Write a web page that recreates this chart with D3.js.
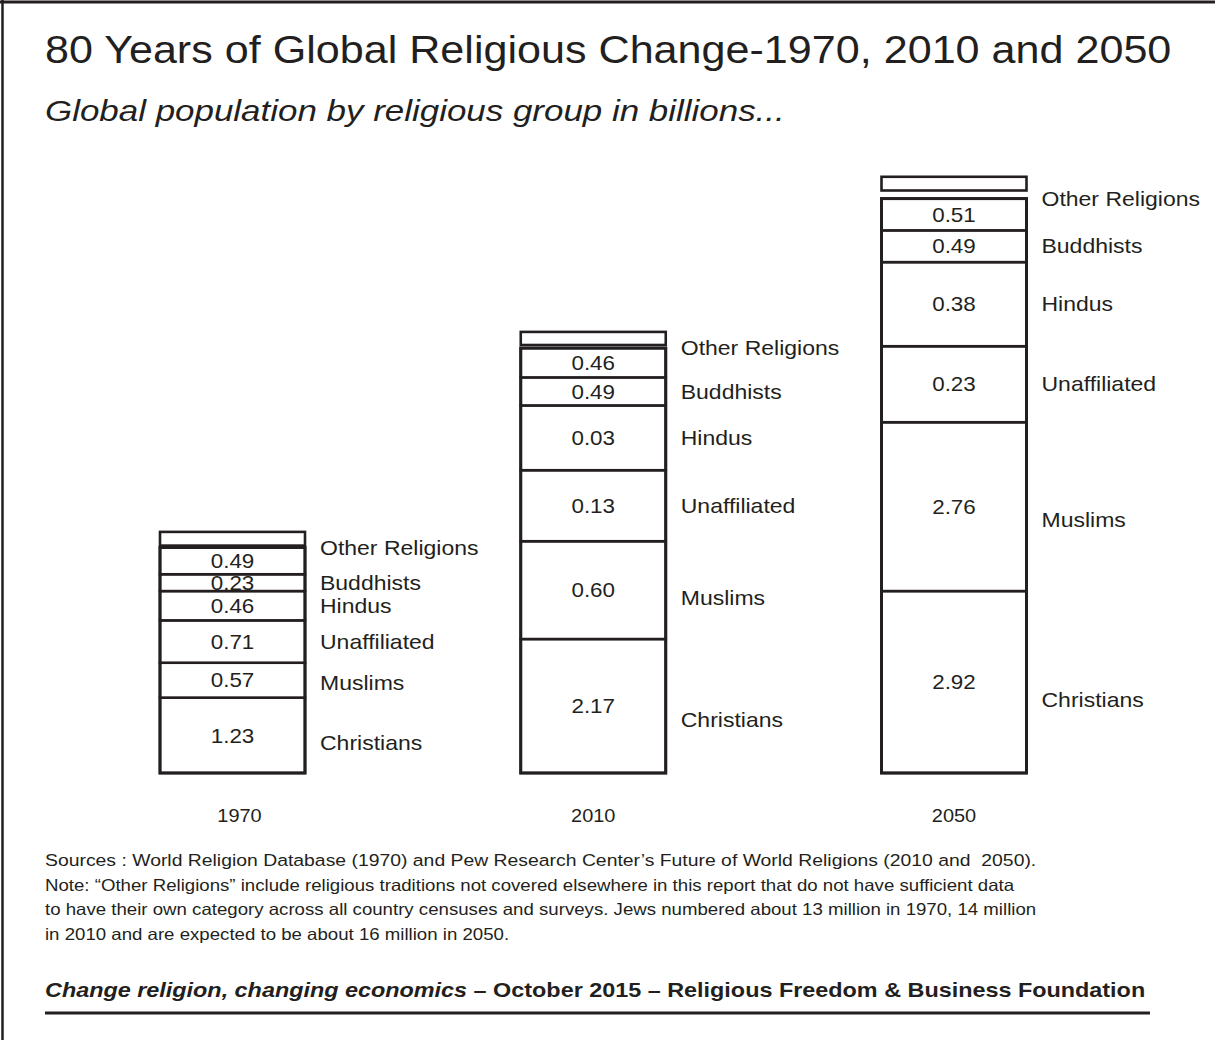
<!DOCTYPE html>
<html>
<head>
<meta charset="utf-8">
<script src="https://cdn.jsdelivr.net/npm/d3@7"></script>
<style>
  html, body { margin: 0; padding: 0; background: #fff; }
  svg { display: block; font-family: "Liberation Sans", Arial, Helvetica, sans-serif; }
  text { white-space: pre; }
</style>
</head>
<body>
<svg id="chart" width="1215" height="1040"></svg>
<script>
// ---- data ----
const years = ["1970", "2010", "2050"];
const categories = ["Christians", "Muslims", "Unaffiliated", "Hindus", "Buddhists", "Other Religions"];
// segment heights (billions) as drawn, bottom to top
const heights1970 = [1.21, 0.56, 0.68, 0.47, 0.27, 0.43];
const heights2010 = [2.15, 1.57, 1.14, 1.04, 0.45, 0.47];
const heights2050 = [2.92, 2.71, 1.22, 1.35, 0.51, 0.51];
// numbers printed inside the segments
const labels1970 = ["1.23", "0.57", "0.71", "0.46", "0.23", "0.49"];
const labels2010 = ["2.17", "0.60", "0.13", "0.03", "0.49", "0.46"];
const labels2050 = ["2.92", "2.76", "0.23", "0.38", "0.49", "0.51"];
// small unlabeled box on top of each stack (billions) and the gap below it
const topBoxValues = [0.22, 0.21, 0.22];
const topBoxGaps = [0.03, 0.05, 0.13];

const titleText = "80 Years of Global Religious Change-1970, 2010 and 2050";
const subtitleText = "Global population by religious group in billions...";
const sourceText = "Sources : World Religion Database (1970) and Pew Research Center\u2019s Future of World Religions (2010 and  2050).";
const noteLines = [
  "Note: \u201cOther Religions\u201d include religious traditions not covered elsewhere in this report that do not have sufficient data",
  "to have their own category across all country censuses and surveys. Jews numbered about 13 million in 1970, 14 million",
  "in 2010 and are expected to be about 16 million in 2050."
];
const footerItalic = "Change religion, changing economics";
const footerRest = " \u2013 October 2015 \u2013 Religious Freedom & Business Foundation";

// ---- styling ----
const ink = "#231f20";
const heightsByYear = [heights1970, heights2010, heights2050];
const labelsByYear = [labels1970, labels2010, labels2050];
// where each category name sits within its segment (fraction of height from bottom)
const nameFrac = { "Christians": 0.4, "Muslims": 0.42, "Unaffiliated": 0.5, "Hindus": 0.5, "Buddhists": 0.5, "Other Religions": 1.0 };

// horizontal stretch of the typeface (reference face is wider than Arial)
function stretch(sel, sx) {
  sel.attr("transform", function () {
    const ax = +this.getAttribute("x");
    return `translate(${ax},0) scale(${sx},1) translate(${-ax},0)`;
  });
  return sel;
}

const svg = d3.select("#chart");

// frame (top and left edges)
svg.append("line").attr("x1", 0).attr("x2", 1215).attr("y1", 2).attr("y2", 2)
  .attr("stroke", ink).attr("stroke-width", 3);
svg.append("line").attr("x1", 2.5).attr("x2", 2.5).attr("y1", 0).attr("y2", 1040)
  .attr("stroke", ink).attr("stroke-width", 2.5);

// titles
stretch(svg.append("text").attr("x", 45).attr("y", 63).attr("fill", ink)
  .attr("font-size", 38.5).text(titleText), 1.12);
stretch(svg.append("text").attr("x", 45).attr("y", 121).attr("fill", ink)
  .attr("font-size", 30).attr("font-style", "italic").text(subtitleText), 1.165);

// scales
const barWidth = 145;
const x = d3.scalePoint().domain(years).range([232.5, 954]);
const y = d3.scaleLinear().domain([0, 10]).range([773, 150]);

years.forEach((yr, i) => {
  const hs = heightsByYear[i];
  const labs = labelsByYear[i];
  const cum = d3.cumsum(hs);
  const segs = categories.map((c, j) => ({
    cat: c, v0: j === 0 ? 0 : cum[j - 1], v1: cum[j], label: labs[j]
  }));
  const g = svg.append("g");
  const x0 = x(yr) - barWidth / 2;

  g.selectAll("rect.seg").data(segs).join("rect").attr("class", "seg")
    .attr("x", x0).attr("width", barWidth)
    .attr("y", d => y(d.v1)).attr("height", d => y(d.v0) - y(d.v1))
    .attr("fill", "#fff").attr("stroke", ink).attr("stroke-width", 2.6);

  // top unlabeled box
  const total = cum[cum.length - 1];
  const b0 = total + topBoxGaps[i];
  const b1 = b0 + topBoxValues[i];
  g.append("rect").attr("x", x0).attr("width", barWidth)
    .attr("y", y(b1)).attr("height", y(b0) - y(b1))
    .attr("fill", "#fff").attr("stroke", ink).attr("stroke-width", 2.6);

  // outer outline, slightly heavier
  g.append("rect").attr("x", x0).attr("width", barWidth)
    .attr("y", y(total)).attr("height", y(0) - y(total))
    .attr("fill", "none").attr("stroke", ink).attr("stroke-width", 3);

  // values inside
  stretch(g.selectAll("text.val").data(segs).join("text").attr("class", "val")
    .attr("x", x(yr)).attr("y", d => y((d.v0 + d.v1) / 2))
    .attr("dy", "0.36em").attr("text-anchor", "middle")
    .attr("font-size", 20).attr("fill", ink).text(d => d.label), 1.12);

  // category names
  stretch(g.selectAll("text.cat").data(segs).join("text").attr("class", "cat")
    .attr("x", x0 + barWidth + 15)
    .attr("y", d => y(d.v0 + nameFrac[d.cat] * (d.v1 - d.v0)))
    .attr("dy", "0.36em").attr("font-size", 20).attr("fill", ink).text(d => d.cat), 1.15);

  // year label
  stretch(svg.append("text").attr("x", x(yr) + (i === 0 ? 7 : 0)).attr("y", 822)
    .attr("text-anchor", "middle").attr("font-size", 19).attr("fill", ink).text(yr), 1.05);
});

// footnotes
stretch(svg.append("text").attr("x", 45).attr("y", 866).attr("font-size", 17)
  .attr("fill", ink).text(sourceText), 1.14);
stretch(svg.selectAll("text.note").data(noteLines).join("text").attr("class", "note")
  .attr("x", 45).attr("y", (d, k) => 891 + k * 24.5)
  .attr("font-size", 16.5).attr("fill", ink).text(d => d), 1.13);

const ft = svg.append("text").attr("x", 45).attr("y", 997).attr("font-size", 19.5)
  .attr("font-weight", "bold").attr("fill", ink);
ft.append("tspan").attr("font-style", "italic").text(footerItalic);
ft.append("tspan").text(footerRest);
stretch(ft, 1.2);

svg.append("line").attr("x1", 45).attr("x2", 1150).attr("y1", 1013).attr("y2", 1013)
  .attr("stroke", ink).attr("stroke-width", 3);
</script>
</body>
</html>
